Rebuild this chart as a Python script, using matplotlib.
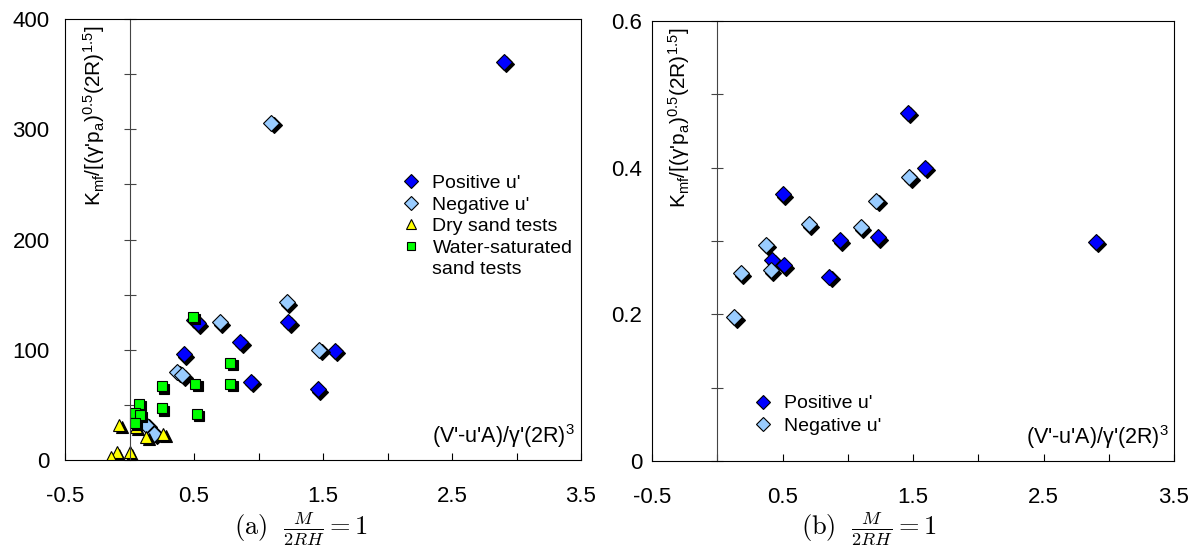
import matplotlib.pyplot as plt
import matplotlib.transforms as mtransforms
import numpy as np

plt.rcParams['font.family'] = ['Liberation Sans', 'DejaVu Sans']
plt.rcParams['mathtext.fontset'] = 'custom'
plt.rcParams['mathtext.rm'] = 'Liberation Sans'
plt.rcParams['mathtext.it'] = 'Liberation Sans:italic'
plt.rcParams['mathtext.bf'] = 'Liberation Sans:bold'

# --- (a) 데이터 ---
pos_x = [2.90, 1.46, 1.59, 0.50, 0.94, 1.23, 0.42, 0.53, 0.86]
pos_y = [361, 64, 99, 127, 71, 125, 96, 124, 107]
neg_x = [1.10, 1.22, 0.70, 1.47, 0.37, 0.41, 0.13, 0.19]
neg_y = [306, 143, 125, 100, 80, 77, 32, 24]
dry_x = [-0.08, 0.13, 0.26, -0.10, -0.14, 0.00, 0.05]
dry_y = [32, 21, 24, 7, 3, 7, 30]
wet_x = [0.49, 0.78, 0.78, 0.25, 0.51, 0.52, 0.07, 0.25, 0.04, 0.08, 0.04]
wet_y = [130, 88, 69, 67, 69, 42, 51, 47, 43, 41, 34]

# --- (b) 데이터 ---
pos_x_b = [1.46, 1.59, 0.50, 0.94, 1.23, 0.42, 0.51, 0.86, 2.90]
pos_y_b = [0.475, 0.400, 0.364, 0.301, 0.305, 0.274, 0.267, 0.251, 0.299]
neg_x_b = [1.47, 1.22, 0.70, 1.10, 0.37, 0.41, 0.18, 0.13]
neg_y_b = [0.387, 0.355, 0.323, 0.319, 0.295, 0.260, 0.256, 0.196]

x_ticks = np.arange(-0.5, 3.51, 0.5)
x_labels = ['-0.5', '', '0.5', '', '1.5', '', '2.5', '', '3.5']

C_POS = '#0000ff'
C_NEG = '#99ccff'
C_DRY = '#ffff00'
C_WET = '#00ff00'

ylabel = "K$_\\mathregular{mf}$/[(\u03b3'p$_\\mathregular{a}$)$^{0.5}$(2R)$^{1.5}$]"
xlabel = "(V'-u'A)/\u03b3'(2R)$^{3}$"

fig = plt.figure(figsize=(11.93, 5.57), dpi=100)


def shadow_plot(ax, x, y, marker, size, color):
    # 엑셀 스타일 그림자 (오른쪽 아래로 약간 이동)
    shift = mtransforms.offset_copy(ax.transData, fig=fig, x=2.5, y=-2.5, units='dots')
    ax.plot(x, y, marker, ms=size, mfc='black', mec='black', mew=0.8,
            ls='none', transform=shift)
    h, = ax.plot(x, y, marker, ms=size, mfc=color, mec='black', mew=0.8, ls='none')
    return h


def setup_axes(ax, ymax, ystep, ylab_step, ylab_fmt, ypad):
    ax.set_xlim(-0.5, 3.5)
    ax.set_ylim(0, ymax)
    ax.set_xticks(x_ticks)
    ax.set_xticklabels(x_labels)
    ax.tick_params(axis='x', direction='in', length=5, width=0.8, pad=19,
                   labelsize=16)
    # 세로축은 x=0 위치
    ax.spines['left'].set_position(('data', 0))
    ax.spines['left'].set_color('#444444')
    ax.set_yticks(np.arange(0, ymax + ystep / 2, ystep))
    ax.tick_params(axis='y', direction='inout', length=8, width=0.8,
                   color='#444444', labelleft=False)
    sec = ax.secondary_yaxis('left')
    ticks = np.arange(0, ymax + ylab_step / 2, ylab_step)
    sec.set_yticks(ticks)
    sec.set_yticklabels([ylab_fmt(t) for t in ticks])
    sec.tick_params(length=0, pad=ypad, labelsize=16)
    for s in ['top', 'right', 'bottom']:
        ax.spines[s].set_linewidth(0.8)
    return sec


# ===== (a) =====
ax1 = fig.add_axes([65 / 1193, 1 - 460 / 557, 516 / 1193, 441 / 557])
setup_axes(ax1, 400, 50, 100, lambda t: '%d' % t, 11)
h_pos = shadow_plot(ax1, pos_x, pos_y, 'D', 8, C_POS)
h_neg = shadow_plot(ax1, neg_x, neg_y, 'D', 8, C_NEG)
h_dry = shadow_plot(ax1, dry_x, dry_y, '^', 8, C_DRY)
h_wet = shadow_plot(ax1, wet_x, wet_y, 's', 7.5, C_WET)

blank = plt.Line2D([], [], ls='none', marker=None)
ax1.legend([h_pos, h_neg, h_dry, h_wet, blank],
           ["Positive u'", "Negative u'", "Dry sand tests", "Water-saturated", "sand tests"],
           loc='center left', bbox_to_anchor=(0.618, 0.53), frameon=False,
           fontsize=14, markerscale=0.85, handlelength=1.0, handletextpad=0.6,
           labelspacing=0.2)
ax1.text(0.057, 0.985, ylabel, transform=ax1.transAxes, rotation=90,
         ha='center', va='top', fontsize=15)
ax1.text(0.988, 0.055, xlabel, transform=ax1.transAxes, ha='right', va='center',
         fontsize=15.5)

# ===== (b) =====
ax2 = fig.add_axes([652 / 1193, 1 - 461 / 557, 522 / 1193, 440 / 557])
setup_axes(ax2, 0.6, 0.1, 0.2, lambda t: '0' if t == 0 else '%.1f' % t, 7)
hb_pos = shadow_plot(ax2, pos_x_b, pos_y_b, 'D', 8, C_POS)
hb_neg = shadow_plot(ax2, neg_x_b, neg_y_b, 'D', 8, C_NEG)
ax2.legend([hb_pos, hb_neg], ["Positive u'", "Negative u'"],
           loc='center left', bbox_to_anchor=(0.16, 0.105), frameon=False,
           fontsize=14, markerscale=0.85, handlelength=1.0, handletextpad=0.6,
           labelspacing=0.25)
ax2.text(0.052, 0.985, ylabel, transform=ax2.transAxes, rotation=90,
         ha='center', va='top', fontsize=15)
ax2.text(0.99, 0.055, xlabel, transform=ax2.transAxes, ha='right', va='center',
         fontsize=15.5)

# 캡션
fig.text(0.2527, 0.05, r"$\mathrm{(a)}\ \ \frac{M}{2RH} = 1$", ha='center',
         va='center', fontsize=19, math_fontfamily='cm')
fig.text(0.728, 0.05, r"$\mathrm{(b)}\ \ \frac{M}{2RH} = 1$", ha='center',
         va='center', fontsize=19, math_fontfamily='cm')

fig.savefig('out.png', dpi=100)
